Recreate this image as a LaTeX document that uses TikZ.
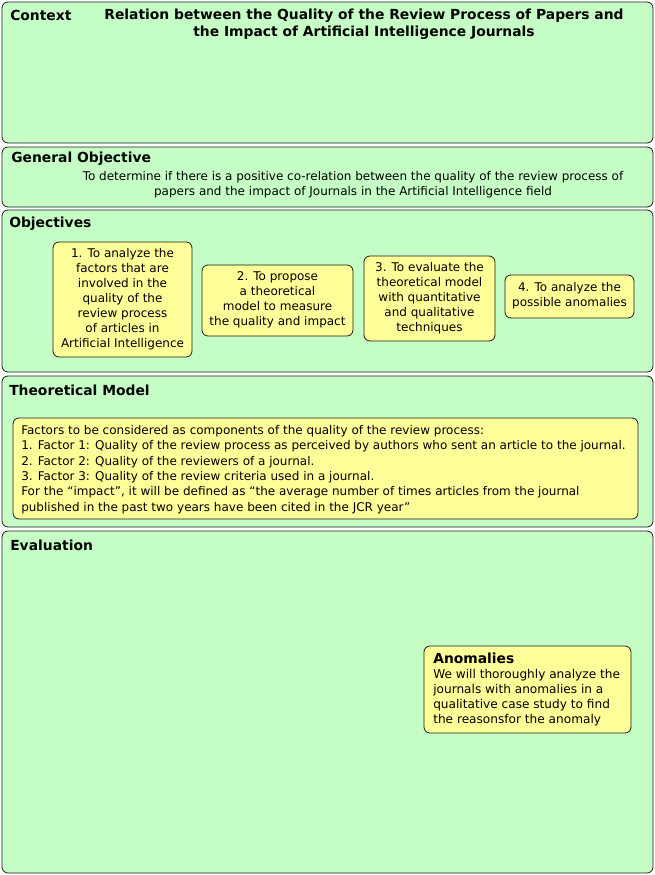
\documentclass[tikz,border=0pt]{standalone}
\usepackage{fontspec}
\setmainfont{DejaVu Sans}
\usetikzlibrary{positioning}
\definecolor{rvGreen}{HTML}{C6FFC6}
\definecolor{rvYellow}{HTML}{FFFF99}
\definecolor{rvEdge}{HTML}{1A1A1A}
\tikzset{
  panel/.style  = {draw=rvEdge, fill=rvGreen, rounded corners=4.5pt, line width=0.6pt},
  card/.style   = {draw=rvEdge, fill=rvYellow, rounded corners=4.5pt, line width=0.6pt},
  ttl/.style    = {font=\bfseries\fontsize{10.4}{13}\selectfont, inner sep=0pt},
  txt/.style    = {font=\fontsize{9}{11.2}\selectfont, inner sep=0pt},
  wtxt/.style   = {font=\fontsize{9.1}{11.25}\selectfont, inner sep=0pt},
}

\begin{document}
\begin{tikzpicture}[x=0.75pt, y=-0.75pt]
  \useasboundingbox (0,0) rectangle (655,875);
  % panels
  \draw[panel] (2,2)   rectangle (653,143);
  \draw[panel] (2,147) rectangle (653,207);
  \draw[panel] (2,210) rectangle (653,372);
  \draw[panel] (2,376) rectangle (653,527);
  \draw[panel] (2,531) rectangle (653,873);
  % cards
  \draw[card] (53,242)  rectangle (192,357);
  \draw[card] (202,265) rectangle (353,336);
  \draw[card] (364,256) rectangle (495,341);
  \draw[card] (505,275) rectangle (634,318);
  \draw[card] (13,418)  rectangle (638,519);
  \draw[card] (424,646) rectangle (631,733);

  % context
  \node[ttl, anchor=west] (context) at (10,15) {Context};
  \node[ttl, align=center] (topic) at (364,24)
    {Relation between the Quality of the Review Process of Papers and\\
     the Impact of Artificial Intelligence Journals};

  % general objective
  \node[ttl, anchor=west] (general) at (11,159) {General Objective};
  \node[txt, align=center] (goal) at (353,184.5)
    {To determine if there is a positive co-relation between the quality of the review process of\\
     papers and the impact of Journals in the Artificial Intelligence field};

  % objectives
  \node[ttl, anchor=west] (objectives) at (9,224) {Objectives};
  \node[txt, align=center] (obj1) at (122.5,299)
    {1. To analyze the\\ factors that are\\ involved in the\\ quality of the\\
     review process\\ of articles in\\ Artificial Intelligence};
  \node[txt, align=center] (obj2) at (277.5,300)
    {2. To propose\\ a theoretical\\ model to measure\\ the quality and impact};
  \node[txt, align=center] (obj3) at (429.5,298)
    {3. To evaluate the\\ theoretical model\\ with quantitative\\ and qualitative\\ techniques};
  \node[txt, align=center] (obj4) at (569.5,296)
    {4. To analyze the\\ possible anomalies};

  % theoretical model
  \node[ttl, anchor=west] (theory) at (9,390) {Theoretical Model};
  \node[txt, align=left, anchor=west, font=\fontsize{9}{11.55}\selectfont] (factors) at (21,469.5)
    {Factors to be considered as components of the quality of the review process:\\
     1. Factor 1: Quality of the review process as perceived by authors who sent an article to the journal.\\
     2. Factor 2: Quality of the reviewers of a journal.\\
     3. Factor 3: Quality of the review criteria used in a journal.\\
     For the “impact”, it will be defined as “the average number of times articles from the journal\\
     published in the past two years have been cited in the JCR year”};

  % evaluation
  \node[ttl, anchor=west] (evaluation) at (10,545) {Evaluation};
  \node[wtxt, align=left, anchor=west] (anomalies) at (433,689.5)
    {{\bfseries\fontsize{10.4}{11.25}\selectfont Anomalies}\\
     We will thoroughly analyze the\\ journals with anomalies in a\\
     qualitative case study to find\\ the reasonsfor the anomaly};
\end{tikzpicture}
\end{document}
